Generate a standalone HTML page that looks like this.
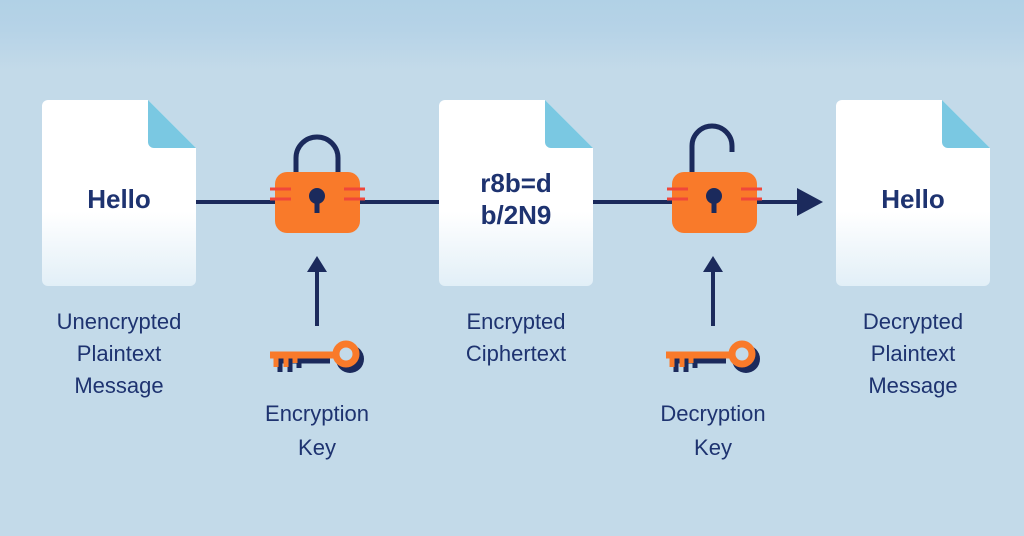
<!DOCTYPE html>
<html><head><meta charset="utf-8"><style>
body{margin:0;width:1024px;height:536px;overflow:hidden;background:linear-gradient(#b1d1e6 0px,#b6d3e7 30px,#c3dae9 70px,#c3dae9 536px);font-family:"Liberation Sans",sans-serif;}
.t{position:absolute;color:#1e3370;font-size:22px;line-height:32px;text-align:center;width:220px;}
</style></head><body>
<svg width="1024" height="536" style="position:absolute;left:0;top:0">
<defs>
<linearGradient id="dg" x1="0" y1="0" x2="0" y2="1"><stop offset="0.6" stop-color="#fff"/><stop offset="1" stop-color="#e2eff7"/></linearGradient>
<g id="doc"><path d="M6 0 H106 L154 48 V180 a6 6 0 0 1 -6 6 H6 a6 6 0 0 1 -6 -6 V6 a6 6 0 0 1 6 -6Z" fill="url(#dg)"/><path d="M106 0 L154 48 H112 a6 6 0 0 1 -6 -6Z" fill="#7ac8e2"/></g>
<g id="lockbody"><rect x="0" y="0" width="85" height="61" rx="12" fill="#f97a2a"/>
<path d="M-5 17 H16 M-5 27 H16 M69 17 H90 M69 27 H90" stroke="#f0473a" stroke-width="3"/>
<circle cx="42" cy="24" r="8" fill="#1b2a5c"/><rect x="39.5" y="26" width="5" height="15" fill="#1b2a5c"/></g>
<g id="key"><circle cx="80" cy="17" r="14" fill="#1b2a5c"/><path d="M4 18 H60" stroke="#1b2a5c" stroke-width="7"/><path d="M10 18 V30 M20 18 V30 M29 18 V26" stroke="#1b2a5c" stroke-width="5"/>
<circle cx="76" cy="12" r="10" fill="#c3dae9" stroke="#f97a2a" stroke-width="7"/><path d="M0 13 H66" stroke="#f97a2a" stroke-width="7"/><path d="M6 13 V25 M16 13 V25 M25 13 V21" stroke="#f97a2a" stroke-width="5"/></g>
</defs>
<g stroke="#1b2a5c" stroke-width="4" fill="none">
<path d="M196 202 H275 M360 202 H440 M592 202 H672 M757 202 H800"/>
<path d="M296 172 V158 a21 21 0 0 1 42 0 V172" stroke-width="5"/>
<path d="M692 172 V146 a20 20 0 0 1 40 0 V152" stroke-width="5"/>
<path d="M317 326 V270 M713 326 V270"/>
</g>
<path d="M797 188 L823 202 L797 216Z" fill="#1b2a5c"/>
<path d="M307 272 L317 256 L327 272Z M703 272 L713 256 L723 272Z" fill="#1b2a5c"/>
<use href="#doc" x="42" y="100"/><use href="#doc" x="439" y="100"/><use href="#doc" x="836" y="100"/>
<use href="#lockbody" x="275" y="172"/><use href="#lockbody" x="672" y="172"/>
<use href="#key" x="270" y="342"/><use href="#key" x="666" y="342"/>
<text x="119" y="208" font-size="26" font-weight="bold" fill="#1e3370" text-anchor="middle" font-family="Liberation Sans,sans-serif">Hello</text>
<text x="913" y="208" font-size="26" font-weight="bold" fill="#1e3370" text-anchor="middle" font-family="Liberation Sans,sans-serif">Hello</text>
<text x="516" y="192" font-size="26" font-weight="bold" fill="#1e3370" text-anchor="middle" font-family="Liberation Sans,sans-serif">r8b=d</text>
<text x="516" y="224" font-size="26" font-weight="bold" fill="#1e3370" text-anchor="middle" font-family="Liberation Sans,sans-serif">b/2N9</text>
</svg>
<div class="t" style="left:9px;top:306px">Unencrypted<br>Plaintext<br>Message</div>
<div class="t" style="left:406px;top:306px">Encrypted<br>Ciphertext</div>
<div class="t" style="left:803px;top:306px">Decrypted<br>Plaintext<br>Message</div>
<div class="t" style="left:207px;top:397px;line-height:34px">Encryption<br>Key</div>
<div class="t" style="left:603px;top:397px;line-height:34px">Decryption<br>Key</div>
</body></html>
